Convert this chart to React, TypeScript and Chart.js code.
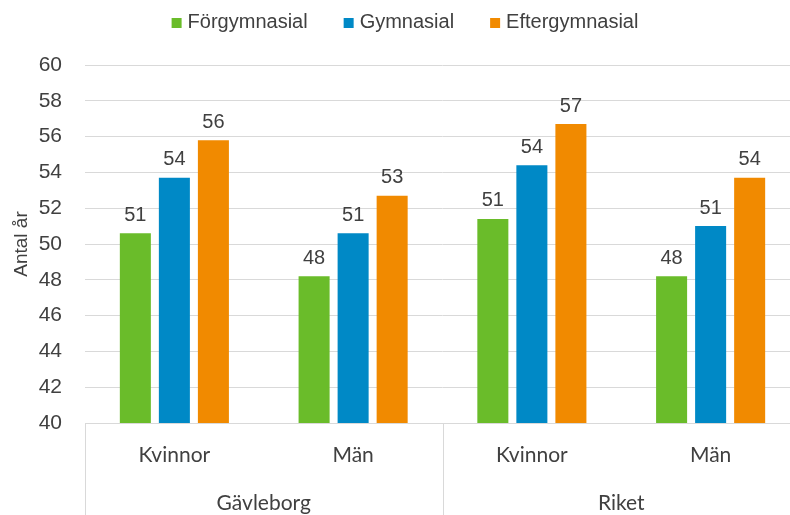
import React, { useEffect, useRef } from "react";
import { Chart, registerables } from "chart.js";

Chart.register(...registerables);

const categories = ["Kvinnor", "Män", "Kvinnor", "Män"];
const groups = ["Gävleborg", "Riket"];
const seriesNames = ["Förgymnasial", "Gymnasial", "Eftergymnasial"];
const forgymnasial = [50.6, 48.2, 51.4, 48.2];
const gymnasial = [53.7, 50.6, 54.4, 51.0];
const eftergymnasial = [55.8, 52.7, 56.7, 53.7];
const colors = ["#6ABC2A", "#0089C6", "#F18A00"];
const yMin = 40;
const yMax = 60;
const yStep = 2;
const yTitle = "Antal år";

const TEXT = "#404040";
const GRID = "#D9D9D9";
const ARIAL = "'Liberation Sans', Arial, sans-serif";
const CAT_FONT = "Lato, 'Open Sans', sans-serif";

const valueLabels = {
  id: "valueLabels",
  afterDatasetsDraw(chart: any) {
    const ctx = chart.ctx;
    ctx.save();
    ctx.font = `20px ${ARIAL}`;
    ctx.fillStyle = TEXT;
    ctx.textAlign = "center";
    ctx.textBaseline = "bottom";
    chart.data.datasets.forEach((ds: any, i: number) => {
      const meta = chart.getDatasetMeta(i);
      meta.data.forEach((el: any, j: number) => {
        ctx.fillText(String(Math.round(ds.data[j])), el.x, el.y - 8);
      });
    });
    ctx.restore();
  },
};

const groupAxis = {
  id: "groupAxis",
  afterDraw(chart: any) {
    const ctx = chart.ctx;
    const x = chart.scales.x;
    const area = chart.chartArea;
    const n = categories.length;
    const per = n / groups.length;
    const step = (x.right - x.left) / n;
    ctx.save();
    ctx.strokeStyle = GRID;
    ctx.lineWidth = 1;
    for (let g = 0; g <= groups.length; g++) {
      const px = Math.round(x.left + g * per * step) + 0.5;
      ctx.beginPath();
      ctx.moveTo(px, area.bottom);
      ctx.lineTo(px, chart.height);
      ctx.stroke();
    }
    ctx.font = `21px ${CAT_FONT}`;
    ctx.fillStyle = TEXT;
    ctx.textAlign = "center";
    ctx.textBaseline = "middle";
    groups.forEach((gname, g) => {
      const cx = x.left + (g * per + per / 2) * step;
      ctx.fillText(gname, cx, area.bottom + 80);
    });
    ctx.restore();
  },
};

const topLegend = {
  id: "topLegend",
  afterDraw(chart: any) {
    const ctx = chart.ctx;
    ctx.save();
    ctx.font = `20px ${ARIAL}`;
    ctx.textBaseline = "middle";
    ctx.textAlign = "left";
    const box = 10;
    const gapBox = 6;
    const gapItem = 36;
    const widths = seriesNames.map((s) => ctx.measureText(s).width);
    const total =
      widths.reduce((a, w) => a + box + gapBox + w, 0) + gapItem * (seriesNames.length - 1);
    let cx = 405 - total / 2;
    const cy = 22;
    seriesNames.forEach((s, i) => {
      ctx.fillStyle = colors[i];
      ctx.fillRect(cx, cy - box / 2 + 1, box, box);
      cx += box + gapBox;
      ctx.fillStyle = TEXT;
      ctx.fillText(s, cx, cy);
      cx += widths[i] + gapItem;
    });
    ctx.restore();
  },
};

export default function App() {
  const ref = useRef<HTMLCanvasElement>(null);
  useEffect(() => {
    if (!ref.current) return;
    const data = [forgymnasial, gymnasial, eftergymnasial];
    const chart = new Chart(ref.current, {
      type: "bar",
      data: {
        labels: categories,
        datasets: seriesNames.map((name, i) => ({
          label: name,
          data: data[i],
          backgroundColor: colors[i],
          borderWidth: 0,
          categoryPercentage: 0.655,
          barPercentage: 0.795,
        })),
      },
      options: {
        responsive: false,
        animation: false,
        devicePixelRatio: 1,
        layout: { padding: { top: 65, left: 0, right: 0, bottom: 0 } },
        plugins: {
          legend: { display: false },
          tooltip: { enabled: false },
        },
        scales: {
          x: {
            grid: { display: false, drawTicks: false },
            border: { display: true, color: GRID, width: 1 },
            ticks: {
              color: TEXT,
              font: { family: CAT_FONT, size: 21 },
              padding: 20,
              maxRotation: 0,
              autoSkip: false,
            },
            afterFit(scale: any) {
              scale.height = 92;
            },
          },
          y: {
            min: yMin,
            max: yMax,
            grid: { color: GRID, lineWidth: 1, drawTicks: false },
            border: { display: false },
            ticks: {
              stepSize: yStep,
              color: TEXT,
              font: { family: ARIAL, size: 21 },
              padding: 23,
            },
            title: {
              display: true,
              text: yTitle,
              color: TEXT,
              font: { family: ARIAL, size: 19 },
              padding: { top: 10, bottom: 0 },
            },
            afterFit(scale: any) {
              scale.width = 85;
            },
          },
        },
      },
      plugins: [valueLabels, groupAxis, topLegend],
    });
    return () => chart.destroy();
  }, []);
  return (
    <div
      style={{
        position: "absolute",
        left: 0,
        top: 0,
        width: 790,
        height: 515,
        overflow: "hidden",
        background: "#fff",
      }}
    >
      <canvas ref={ref} width={800} height={515} style={{ display: "block" }} />
    </div>
  );
}
